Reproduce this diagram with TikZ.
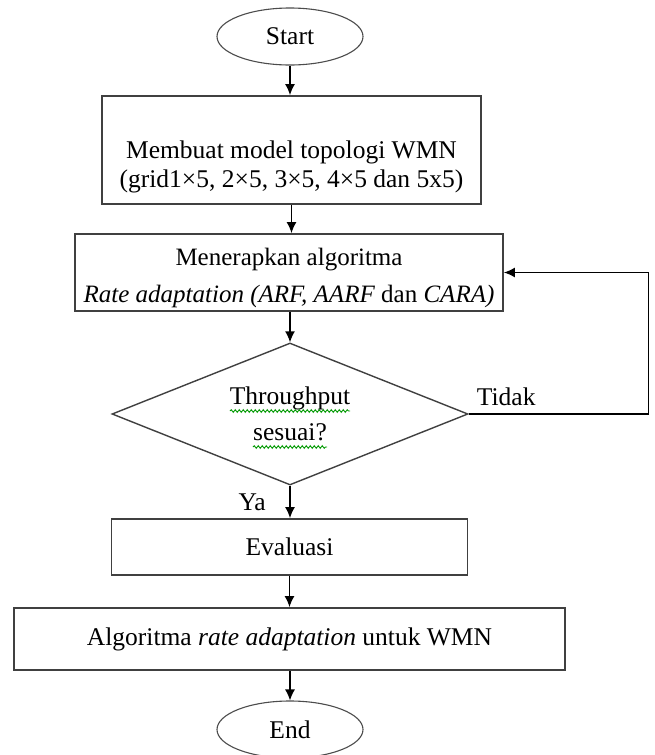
\documentclass[tikz,border=0pt]{standalone}
\usepackage{fontspec}
\setmainfont{Liberation Serif}
\usepackage{tikz}
\usetikzlibrary{calc,positioning,shapes.geometric,arrows.meta,decorations.pathmorphing}

\begin{document}
\begin{tikzpicture}[x=1pt,y=-1pt,
    every node/.style={font=\fontsize{25.5}{29}\selectfont, inner sep=0pt, text=black},
    term/.style={draw=black!70, line width=1.1pt, ellipse, minimum width=146pt, minimum height=57pt},
    proc/.style={draw=black!75, line width=1.8pt, rectangle, align=center},
    cond/.style={draw=black!75, line width=1.4pt, diamond, aspect=2.5, minimum width=356pt, minimum height=142pt, align=center},
    flow/.style={line width=1.4pt, -{Latex[length=11pt,width=10pt]}},
    spell/.style={draw=green!60!black, line width=0.9pt, decorate, decoration={snake, segment length=4pt, amplitude=1.3pt}}]

      \path[use as bounding box, fill=white] (0,0) rectangle (654,755);

      \node[term] (start) at (290,36.5) {Start};
      \node[proc, minimum width=379pt, minimum height=108pt] (model) at (291.5,150)
        {\rule{0pt}{51pt}Membuat model topologi WMN\\(grid1×5, 2×5, 3×5, 4×5 dan 5x5)};
      \node[proc, minimum width=428pt, minimum height=77pt, font=\fontsize{25}{37}\selectfont] (adapt) at (289,272.5)
        {\rule{0pt}{29pt}Menerapkan algoritma\\\textit{Rate adaptation (ARF, AARF} dan \textit{CARA)}};
      \node[cond, font=\fontsize{25.5}{36}\selectfont] (check) at (290,414) {Throughput\\sesuai?};
      \node[proc, minimum width=356pt, minimum height=56pt] (eval) at (289.5,547) {Evaluasi};
      \node[proc, minimum width=551pt, minimum height=62pt] (result) at (289.5,639)
        {Algoritma \textit{rate adaptation} untuk WMN};
      \node[term] (stop) at (290,729.5) {End};

      % spelling marks under the question
      \draw[spell] ($(check.center)+(-60,-3)$) -- ++(120,0);
      \draw[spell] ($(check.center)+(-37,33)$) -- ++(74,0);

      \draw[flow] (start.south) -- (start.south |- model.north);
      \draw[flow] (model.south) -- (model.south |- adapt.north);
      \draw[flow] (adapt.south -| check.north) -- (check.north);
      \draw[flow] (check.south) -- (check.south |- eval.north);
      \draw[flow] (eval.south -| result.north) -- (result.north);
      \draw[flow] (result.south -| stop.north) -- (stop.north);
      \draw[flow] (check.east) -- ++(180,0) coordinate (loop) |- (adapt.east);

      \node[anchor=base east] (ya) at ($(check.south)+(-24,25)$) {Ya};
      \node[anchor=base west] (tidak) at ($(check.east)+(8,-8.3)$) {Tidak};
    \end{tikzpicture}
\end{document}
